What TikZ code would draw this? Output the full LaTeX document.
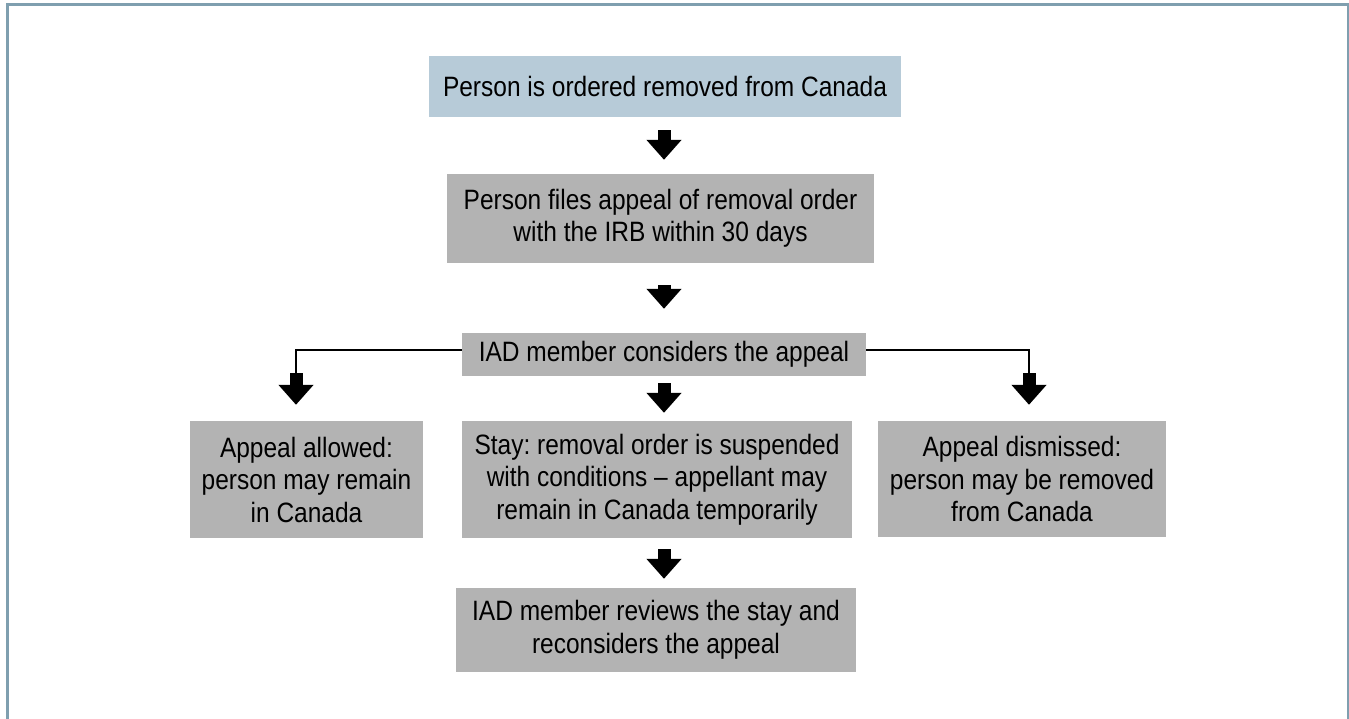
\documentclass[tikz,border=0pt]{standalone}
\usepackage{fontspec}
\setmainfont{Liberation Sans}[FakeStretch=0.875]
\usetikzlibrary{arrows.meta}
\definecolor{framec}{HTML}{7F9FAF}
\definecolor{boxgray}{HTML}{B3B3B3}
\definecolor{boxblue}{HTML}{B7CBD8}
\frenchspacing
\begin{document}
\begin{tikzpicture}[x=1pt,y=-1pt,
  box/.style={fill=boxgray, inner sep=0pt, align=center, text=black,
    font=\fontsize{28}{32.5}\selectfont},
  fat/.style={line width=13pt, -{Triangle[width=34pt,length=20pt]}, black},
  link/.style={line width=2pt, black}]
\useasboundingbox (0,0) rectangle (1349,719);
\fill[white] (0,0) rectangle (1349,719);
\draw[framec, line width=3pt] (7,719) -- (7,5) -- (1348,5) -- (1348,719);

\node[box, fill=boxblue, minimum width=472pt, minimum height=61pt] (b1) at (665,86.5) {Person is ordered removed from Canada};
\node[box, minimum width=427pt, minimum height=89pt] (b2) at (660.5,218.5) {Person files appeal of removal order\\with the IRB within 30 days};
\node[box, minimum width=404pt, minimum height=43pt] (b3) at (664,354.5) {IAD member considers the appeal};
\node[box, minimum width=233pt, minimum height=117pt] (b4) at (306.5,479.5) {Appeal allowed:\\person may remain\\in Canada};
\node[box, minimum width=390pt, minimum height=117pt] (b5) at (657,479.5) {Stay: removal order is suspended\\with conditions -- appellant may\\remain in Canada temporarily};
\node[box, minimum width=288pt, minimum height=116pt] (b6) at (1022,479) {Appeal dismissed:\\person may be removed\\from Canada};
\node[box, minimum width=400pt, minimum height=84pt] (b7) at (656,630) {IAD member reviews the stay and\\reconsiders the appeal};

\draw[fat] ([xshift=-1pt,yshift=-13pt]b1.south) -- ([xshift=3.5pt,yshift=14pt]b2.north);
\draw[fat] ([xshift=3.5pt,yshift=-22pt]b2.south) -- ([yshift=24pt]b3.north);
\draw[fat] ([yshift=-7pt]b3.south) -- ([xshift=7pt,yshift=8pt]b5.north);
\draw[fat] ([xshift=7pt,yshift=-11pt]b5.south) -- ([xshift=8pt,yshift=9pt]b7.north);

\coordinate (al) at (296,373);
\coordinate (ar) at (1029,373);
\draw[link] ([yshift=4.5pt]b3.west) -| (al);
\draw[fat] (al) -- ([xshift=-10.5pt,yshift=16pt]b4.north);
\draw[link] ([yshift=4.5pt]b3.east) -| (ar);
\draw[fat] (ar) -- ([xshift=7pt,yshift=16pt]b6.north);
\end{tikzpicture}
\end{document}
